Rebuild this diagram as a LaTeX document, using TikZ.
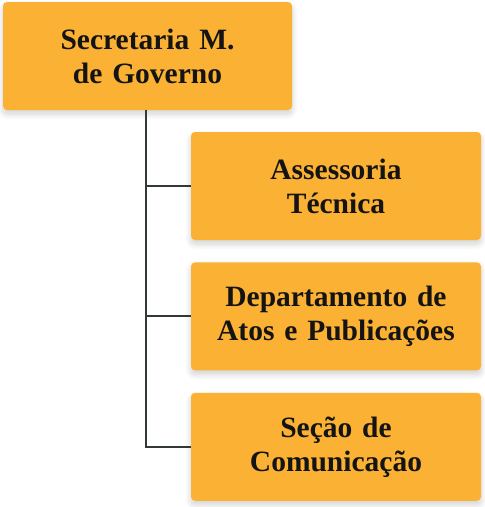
\documentclass[tikz,border=0pt]{standalone}
\usepackage{fontspec}
\setmainfont[WordSpace=0.55]{Liberation Serif}
\usetikzlibrary{positioning}
\usetikzlibrary{chains,shadows.blur}
\definecolor{orgbox}{RGB}{251,178,52}
\definecolor{orgline}{RGB}{50,55,55}
\tikzset{
	unidade/.style={
		rectangle,
		rounded corners=4pt,
		fill=orgbox,
		blur shadow={shadow xshift=0pt, shadow yshift=-4pt, shadow opacity=18, shadow blur steps=8, shadow blur radius=6pt},
		minimum width=290pt,
		minimum height=108pt,
		text width=280pt,
		align=center,
		text=black!92,
		font=\bfseries\fontsize{29.5}{34}\selectfont,
		inner sep=0pt},
	filho/.style={unidade, on chain},
	ligacao/.style={draw=orgline, line width=2pt},
}

\begin{document}
\begin{tikzpicture}
	[x=1pt,y=1pt,node distance=22pt,
	start chain=going below]
	\useasboundingbox (0,0) rectangle (485,-507);
	\node[unidade, minimum width=289pt] (sec) at (147.5,-56) {Secretaria M.\\de Governo};
	\node[filho] (ass) at (336,-186) {Assessoria\\Técnica};
	\node[filho] (dep) {Departamento de\\Atos e Publicações};
	\node[filho] (com) {Seção de\\Comunicação};
	\coordinate (tronco) at ([xshift=-1.5pt]sec.south);
	\draw[ligacao] (tronco) |- (com.west);
	\draw[ligacao] (tronco) |- (ass.west);
	\draw[ligacao] (tronco) |- (dep.west);
\end{tikzpicture}
\end{document}
